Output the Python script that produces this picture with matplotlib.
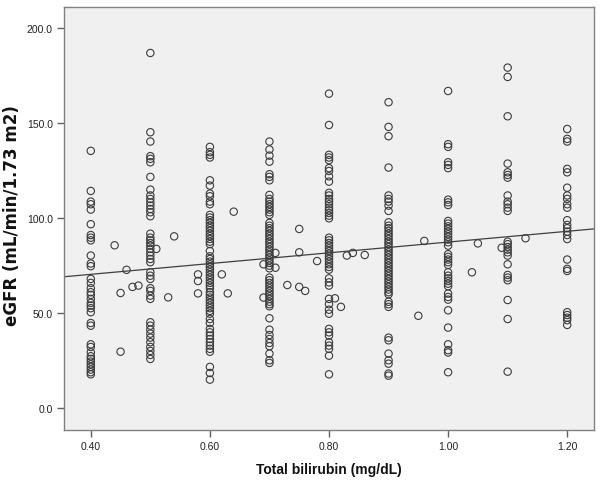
import matplotlib
matplotlib.use("Agg")
import matplotlib.pyplot as plt
import numpy as np

# ---- data ----
egfr_040 = [135.3, 114.2, 108.6, 107.2, 104.4, 96.7, 91.0, 89.6, 88.2, 80.2, 76.0, 74.6,
            67.9, 65.8, 63.0, 60.9, 59.5, 57.4, 55.3, 53.9, 52.5, 50.4, 44.7, 43.3,
            33.5, 32.1, 29.3, 27.2, 25.8, 24.4, 23.0, 21.6, 20.2, 18.8, 17.7]
egfr_050 = [186.8, 145.1, 140.2, 132.5, 131.1, 129.3, 121.6, 114.9, 111.8, 110.0, 108.2,
            106.5, 104.7, 103.0, 100.9, 91.7, 89.6, 88.2, 86.8, 85.4, 83.7, 81.9, 80.2,
            78.4, 76.7, 71.4, 69.6, 67.9, 63.0, 61.6, 59.1, 57.4, 45.1, 43.3, 41.2, 39.1,
            37.0, 34.6, 32.1, 30.0, 27.9, 25.8]
egfr_060 = [137.4, 134.6, 133.2, 131.8, 119.8, 117.0, 112.8, 111.4, 108.6, 107.2, 101.6,
            100.2, 98.8, 97.4, 95.9, 94.6, 93.2, 91.7, 90.4, 88.9, 87.5, 86.2, 82.6, 79.8,
            78.4, 77.0, 75.6, 74.2, 72.8, 71.4, 70.0, 68.6, 67.2, 65.8, 64.4, 63.0, 60.9,
            59.5, 58.1, 56.7, 55.3, 53.9, 52.5, 51.1, 49.6, 46.8, 44.7, 41.6, 39.8, 38.1,
            36.3, 34.6, 32.8, 31.1, 29.6, 21.6, 18.4, 14.9]
egfr_070 = [140.2, 136.0, 132.8, 129.6, 123.0, 121.6, 119.8, 112.1, 110.0, 108.6, 107.2,
            105.8, 104.4, 103.0, 101.6, 97.4, 95.9, 94.6, 93.2, 91.7, 90.4, 88.9, 87.5,
            86.2, 84.7, 83.3, 81.9, 80.5, 79.1, 77.7, 76.3, 74.9, 73.5, 68.6, 67.2, 65.8,
            64.4, 63.0, 61.6, 60.2, 58.8, 57.4, 55.9, 54.6, 53.5, 47.2, 41.2, 38.4, 36.3,
            34.2, 32.5, 28.6, 25.1, 23.7]
egfr_080 = [165.4, 148.9, 133.2, 131.8, 130.4, 126.2, 124.7, 121.9, 119.1, 113.2, 111.8,
            110.0, 108.6, 107.2, 105.4, 104.0, 102.6, 101.2, 99.8, 89.6, 88.2, 86.8, 85.4,
            84.0, 82.6, 81.2, 79.8, 78.4, 77.0, 75.6, 74.2, 72.8, 68.2, 66.1, 64.4, 57.4,
            54.6, 51.7, 49.6, 41.6, 39.8, 38.1, 34.6, 32.8, 31.1, 27.5, 17.7]
egfr_090 = [160.9, 147.9, 143.0, 126.5, 111.8, 110.0, 108.6, 106.5, 103.7, 97.7, 95.9,
            94.6, 93.2, 91.7, 90.4, 88.9, 87.5, 86.2, 84.7, 83.3, 81.9, 80.5, 79.1, 77.7,
            76.3, 74.9, 73.5, 72.1, 70.7, 69.3, 67.9, 66.5, 65.1, 63.7, 62.3, 60.9, 59.8,
            55.9, 54.6, 53.2, 37.0, 35.6, 28.6, 25.1, 23.3, 18.1, 17.0]
egfr_100 = [166.8, 138.8, 137.4, 129.3, 127.9, 126.2, 109.6, 108.2, 106.8, 98.4, 97.0,
            95.6, 94.2, 92.8, 91.4, 90.0, 88.6, 87.2, 85.4, 80.9, 79.5, 78.1, 76.7, 75.3,
            71.4, 69.6, 68.2, 66.8, 65.4, 64.0, 60.2, 58.4, 57.0, 51.4, 42.3, 33.5, 30.4,
            29.2, 18.8]
egfr_110 = [179.1, 174.2, 153.5, 128.6, 124.0, 122.6, 121.2, 111.8, 108.6, 107.2, 105.4,
            103.7, 87.5, 86.2, 84.7, 83.3, 81.9, 80.2, 75.6, 70.0, 68.6, 67.2, 56.8, 46.8,
            19.1]
egfr_120 = [146.8, 141.6, 140.2, 125.8, 124.0, 115.9, 111.8, 110.0, 107.2, 105.4, 98.8,
            96.3, 94.6, 92.8, 91.0, 88.9, 78.1, 73.2, 72.1, 50.4, 48.9, 47.5, 46.2, 43.7]

# scattered (non-grid) bilirubin values
other_bili = [0.44, 0.45, 0.45, 0.46, 0.47, 0.48, 0.51, 0.53, 0.54,
              0.58, 0.58, 0.58, 0.62, 0.63, 0.64,
              0.69, 0.69, 0.71, 0.71, 0.73, 0.75, 0.75, 0.75, 0.76, 0.78,
              0.81, 0.82, 0.83, 0.84, 0.86,
              0.95, 0.96, 1.04, 1.05, 1.09, 1.13]
other_egfr = [85.6, 60.5, 29.6, 72.7, 63.7, 64.4, 83.7, 58.2, 90.3,
              70.3, 66.8, 60.3, 70.3, 60.3, 103.3,
              75.6, 58.1, 81.6, 73.8, 64.7, 94.2, 81.9, 63.7, 61.6, 77.3,
              57.7, 53.2, 80.2, 81.6, 80.5,
              48.5, 87.9, 71.4, 86.6, 84.3, 89.3]

grid_levels = [0.40, 0.50, 0.60, 0.70, 0.80, 0.90, 1.00, 1.10, 1.20]
grid_egfr = [egfr_040, egfr_050, egfr_060, egfr_070, egfr_080,
             egfr_090, egfr_100, egfr_110, egfr_120]

# fit line
fit_intercept = 59.0
fit_slope = 28.3

x_ticks = [0.40, 0.60, 0.80, 1.00, 1.20]
x_ticklabels = ["0.40", "0.60", "0.80", "1.00", "1.20"]
y_ticks = [0, 50, 100, 150, 200]
y_ticklabels = ["0.0", "50.0", "100.0", "150.0", "200.0"]

x_label = "Total bilirubin (mg/dL)"
y_label = "eGFR (mL/min/1.73 m2)"

# ---- plotting ----
plt.rcParams['font.family'] = ['Liberation Sans', 'DejaVu Sans']

fig = plt.figure(figsize=(6.0, 4.85), dpi=100)
fig.patch.set_facecolor('white')
ax = fig.add_axes([64 / 600, 1 - 431 / 485, 530 / 600, 423 / 485])
ax.set_facecolor('#f0f0f0')

bili_all = []
egfr_all = []
for lvl, vals in zip(grid_levels, grid_egfr):
    bili_all += [lvl] * len(vals)
    egfr_all += vals
bili_all += other_bili
egfr_all += other_egfr

ax.scatter(bili_all, egfr_all, s=28, facecolors='none', edgecolors='#3c3c3c',
           linewidths=0.8, zorder=3)

xlim = (0.355, 1.245)
ylim = (-11.6, 211.0)
xs = np.array(xlim)
ax.plot(xs, fit_intercept + fit_slope * xs, color='#404040', linewidth=0.9, zorder=2)

ax.set_xlim(*xlim)
ax.set_ylim(*ylim)

ax.set_xticks(x_ticks)
ax.set_xticklabels(x_ticklabels)
ax.set_yticks(y_ticks)
ax.set_yticklabels(y_ticklabels)

for sp in ax.spines.values():
    sp.set_color('#808080')
    sp.set_linewidth(1.0)

ax.tick_params(axis='both', direction='out', length=5, width=1.0, color='#606060',
               labelsize=7.5, labelcolor='#222222', pad=3)

fig.text(329 / 600, 1 - 470 / 485, x_label, fontsize=10, fontweight='bold',
         color='#111111', ha='center', va='center')
fig.text(12 / 600, 1 - 216 / 485, y_label, fontsize=12, fontweight='bold',
         family=['DejaVu Sans'], color='#111111', ha='center', va='center',
         rotation=90)

fig.savefig("out.png", dpi=100, facecolor='white')
